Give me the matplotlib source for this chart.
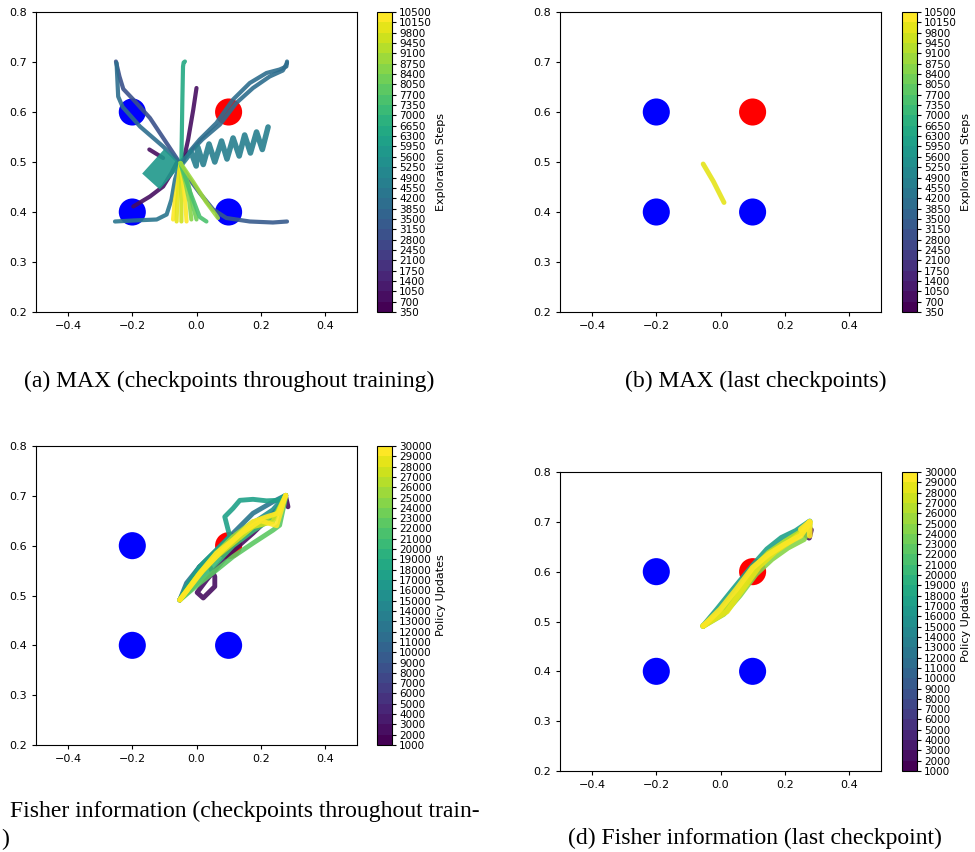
import matplotlib
matplotlib.use("Agg")
import matplotlib.pyplot as plt
import matplotlib.colors as mcolors
import matplotlib.cm as cm

# goals
goal_x = [-0.2, 0.1, -0.2, 0.1]
goal_y = [0.6, 0.6, 0.4, 0.4]
goal_colors = ["blue", "red", "blue", "blue"]

# colorbar levels
explore_levels = list(range(350, 10501, 350))
update_levels = list(range(1000, 30001, 1000))

# (a) MAX, checkpoints throughout training
max_all_steps = [2800, 3850, 3850, 3850, 3150, 4200, 700, 700, 700, 6300, 4550, 5600,
                 10150, 9800, 9450, 10500, 8400, 8050, 7350, 8750]
max_all_paths = [
    ([-0.251, -0.240, -0.228, -0.197, -0.145, -0.083, -0.052],
     [0.701, 0.671, 0.646, 0.625, 0.588, 0.528, 0.498]),
    ([-0.249, -0.244, -0.230, -0.176, -0.104, -0.052],
     [0.698, 0.631, 0.610, 0.571, 0.531, 0.498]),
    ([-0.052, 0.010, 0.062, 0.114, 0.166, 0.218, 0.259, 0.280, 0.282],
     [0.498, 0.545, 0.578, 0.625, 0.658, 0.678, 0.685, 0.691, 0.701]),
    ([-0.052, 0.018, 0.073, 0.124, 0.176, 0.228, 0.269, 0.282],
     [0.498, 0.545, 0.575, 0.618, 0.648, 0.671, 0.683, 0.698]),
    ([-0.052, -0.021, 0.010, 0.052, 0.093, 0.166, 0.238, 0.282],
     [0.497, 0.465, 0.438, 0.405, 0.388, 0.381, 0.379, 0.381]),
    ([-0.254, -0.197, -0.124, -0.093, -0.078, -0.067, -0.052],
     [0.381, 0.383, 0.385, 0.395, 0.425, 0.465, 0.497]),
    ([-0.197, -0.145, -0.104, -0.078, -0.062],
     [0.411, 0.431, 0.451, 0.478, 0.498]),
    ([-0.041, -0.026, -0.010, 0.000],
     [0.501, 0.545, 0.605, 0.648]),
    ([-0.147, -0.104],
     [0.525, 0.508]),
    ([-0.047, -0.044, -0.042, -0.040, -0.036],
     [0.505, 0.625, 0.691, 0.699, 0.701]),
    ([-0.045, -0.017, -0.001, 0.004, 0.021, 0.039, 0.057, 0.078, 0.095, 0.114, 0.133,
      0.150, 0.168, 0.187, 0.205, 0.223],
     [0.497, 0.520, 0.492, 0.530, 0.495, 0.536, 0.500, 0.542, 0.506, 0.548, 0.512,
      0.554, 0.518, 0.560, 0.525, 0.570]),
    ([-0.142, -0.073],
     [0.461, 0.510]),
    ([-0.050, -0.058, -0.068, -0.073],
     [0.498, 0.460, 0.420, 0.385]),
    ([-0.050, -0.055, -0.060, -0.062],
     [0.498, 0.460, 0.420, 0.381]),
    ([-0.050, -0.048, -0.047, -0.047],
     [0.498, 0.460, 0.420, 0.381]),
    ([-0.050, -0.042, -0.035, -0.031],
     [0.498, 0.460, 0.420, 0.381]),
    ([-0.050, -0.035, -0.022, -0.016],
     [0.498, 0.460, 0.420, 0.385]),
    ([-0.050, -0.025, -0.012, 0.000],
     [0.498, 0.455, 0.415, 0.385]),
    ([-0.050, -0.020, 0.010, 0.031],
     [0.498, 0.440, 0.390, 0.381]),
    ([-0.050, -0.010, 0.030, 0.067],
     [0.498, 0.460, 0.420, 0.388]),
]
max_all_widths = [3] * 10 + [4, 17] + [3] * 8

# (b) MAX, last checkpoints
max_last_steps = [9800]
max_last_paths = [
    ([-0.054, -0.022, 0.011],
     [0.496, 0.461, 0.419]),
]

# (c) Fisher information, checkpoints throughout training
fisher_all_updates = [2000, 12000, 15000, 17000, 20000, 22000, 25000, 27000, 29000, 30000]
fisher_all_paths = [
    ([-0.052, -0.010, 0.010, 0.036, 0.057, 0.057, 0.021, 0.002, 0.031, 0.093, 0.176,
      0.249, 0.278, 0.285],
     [0.491, 0.538, 0.558, 0.565, 0.538, 0.518, 0.495, 0.506, 0.531, 0.578, 0.625,
      0.671, 0.698, 0.678]),
    ([-0.052, -0.031, 0.010, 0.062, 0.114, 0.176, 0.238, 0.278],
     [0.491, 0.525, 0.558, 0.591, 0.625, 0.665, 0.688, 0.701]),
    ([-0.052, 0.000, 0.062, 0.114, 0.176, 0.238, 0.278],
     [0.491, 0.535, 0.578, 0.612, 0.645, 0.672, 0.701]),
    ([-0.052, -0.031, 0.010, 0.062, 0.104, 0.088, 0.114, 0.135, 0.176, 0.218, 0.254,
      0.278],
     [0.491, 0.518, 0.558, 0.591, 0.618, 0.658, 0.675, 0.691, 0.693, 0.690, 0.691,
      0.701]),
    ([-0.052, 0.010, 0.062, 0.114, 0.176, 0.238, 0.278],
     [0.491, 0.530, 0.565, 0.600, 0.630, 0.655, 0.701]),
    ([-0.052, 0.010, 0.062, 0.114, 0.176, 0.238, 0.259, 0.278],
     [0.491, 0.525, 0.551, 0.578, 0.605, 0.631, 0.641, 0.698]),
    ([-0.052, 0.010, 0.062, 0.114, 0.176, 0.218, 0.254, 0.278],
     [0.491, 0.545, 0.585, 0.618, 0.648, 0.655, 0.665, 0.701]),
    ([-0.052, 0.005, 0.062, 0.114, 0.176, 0.238, 0.278],
     [0.491, 0.540, 0.578, 0.605, 0.638, 0.648, 0.701]),
    ([-0.052, 0.010, 0.062, 0.114, 0.176, 0.218, 0.254, 0.278],
     [0.491, 0.545, 0.585, 0.612, 0.648, 0.658, 0.665, 0.701]),
    ([-0.052, 0.020, 0.080, 0.140, 0.200, 0.250, 0.278],
     [0.491, 0.550, 0.590, 0.625, 0.650, 0.640, 0.701]),
]

# (d) Fisher information, last checkpoint
fisher_last_updates = [2000, 17000, 21000, 24000, 26000, 28000, 30000, 30000]
fisher_last_paths = [
    ([0.262, 0.276, 0.282],
     [0.676, 0.668, 0.684]),
    ([-0.054, -0.010, 0.040, 0.100, 0.145, 0.190, 0.235, 0.278],
     [0.491, 0.525, 0.565, 0.612, 0.645, 0.668, 0.682, 0.701]),
    ([-0.054, 0.000, 0.050, 0.100, 0.150, 0.200, 0.250, 0.278],
     [0.491, 0.522, 0.560, 0.600, 0.635, 0.660, 0.678, 0.695]),
    ([-0.054, 0.010, 0.060, 0.110, 0.160, 0.210, 0.260, 0.278],
     [0.491, 0.515, 0.552, 0.595, 0.625, 0.648, 0.665, 0.690]),
    ([-0.054, 0.000, 0.050, 0.100, 0.150, 0.200, 0.250, 0.278],
     [0.491, 0.518, 0.555, 0.605, 0.638, 0.660, 0.680, 0.700]),
    ([-0.054, 0.020, 0.070, 0.120, 0.170, 0.220, 0.260, 0.278],
     [0.491, 0.520, 0.565, 0.610, 0.640, 0.662, 0.682, 0.698]),
    ([-0.054, 0.000, 0.050, 0.100, 0.150, 0.200, 0.250, 0.278],
     [0.491, 0.525, 0.565, 0.608, 0.635, 0.655, 0.672, 0.700]),
    ([0.250, 0.278, 0.278],
     [0.685, 0.700, 0.672]),
]

cmap = plt.get_cmap("viridis")
W, H = 975, 852


def px_axes(x0, y0, x1, y1):
    return [x0 / W, 1 - y1 / H, (x1 - x0) / W, (y1 - y0) / H]


def draw_panel(fig, ax_box, cb_box, paths, values, levels, label, widths):
    ax = fig.add_axes(px_axes(*ax_box))
    cax = fig.add_axes(px_axes(*cb_box))
    norm = mcolors.BoundaryNorm(levels, cmap.N)
    ax.scatter(goal_x, goal_y, s=380, c=goal_colors, zorder=1, linewidths=0)
    for (xs, ys), v, lw in zip(paths, values, widths):
        cap = "butt" if lw > 8 else "round"
        ax.plot(xs, ys, color=cmap(norm(v)), lw=lw, alpha=0.9, zorder=2,
                solid_capstyle=cap, solid_joinstyle="round")
    ax.set_xlim(-0.5, 0.5)
    ax.set_ylim(0.2, 0.8)
    ax.set_xticks([-0.4, -0.2, 0.0, 0.2, 0.4])
    ax.set_yticks([0.2, 0.3, 0.4, 0.5, 0.6, 0.7, 0.8])
    ax.tick_params(labelsize=8, length=3)
    sm = cm.ScalarMappable(norm=norm, cmap=cmap)
    cb = fig.colorbar(sm, cax=cax, ticks=levels)
    cb.ax.tick_params(labelsize=7.5, length=3, pad=2)
    cb.set_label(label, fontsize=8, labelpad=3)
    return ax


fig = plt.figure(figsize=(W / 100, H / 100), dpi=100)

draw_panel(fig, (36, 12, 357, 312), (377, 12, 392, 312), max_all_paths, max_all_steps,
           explore_levels, "Exploration Steps", max_all_widths)
draw_panel(fig, (560, 12, 881, 312), (902, 12, 917, 312), max_last_paths, max_last_steps,
           explore_levels, "Exploration Steps", [3.5])
draw_panel(fig, (36, 446, 357, 745), (377, 446, 392, 745), fisher_all_paths,
           fisher_all_updates, update_levels, "Policy Updates", [3.5] * 10)
draw_panel(fig, (560, 472, 881, 771), (902, 472, 917, 771), fisher_last_paths,
           fisher_last_updates, update_levels, "Policy Updates", [4] * 8)

cap_font = dict(family="Liberation Serif", fontsize=17)
fig.text(229 / W, 1 - 381 / H, "(a) MAX (checkpoints throughout training)",
         ha="center", va="center", **cap_font)
fig.text(756 / W, 1 - 381 / H, "(b) MAX (last checkpoints)",
         ha="center", va="center", **cap_font)
# caption (c) is cut at the left edge in the source: only its visible part is kept
fig.text(10 / W, 1 - 811 / H, "Fisher information (checkpoints throughout train-",
         ha="left", va="center", **cap_font)
fig.text(1 / W, 1 - 839 / H, ")", ha="left", va="center", **cap_font)
fig.text(755 / W, 1 - 838 / H, "(d) Fisher information (last checkpoint)",
         ha="center", va="center", **cap_font)

fig.savefig("out.png", dpi=100)
